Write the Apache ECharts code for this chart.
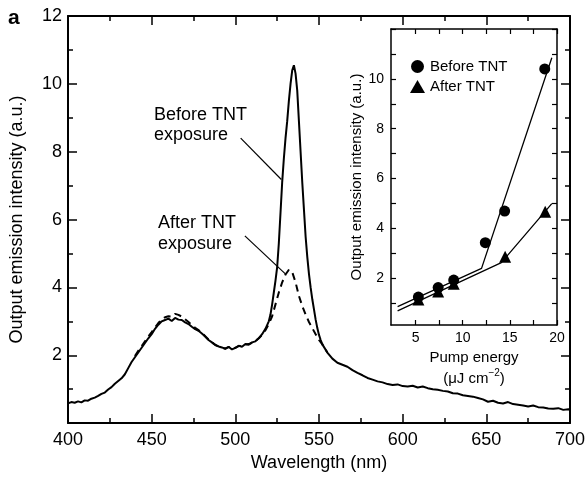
<!DOCTYPE html>
<html><head><meta charset="utf-8">
<script src="https://cdn.jsdelivr.net/npm/echarts@6/dist/echarts.min.js"></script>
<style>html,body{margin:0;padding:0;background:#fff}#c{width:588px;height:477px}</style>
</head><body><div id="c"></div>
<script>
const FONT = '"Liberation Sans", Arial, Helvetica, sans-serif';

// Main spectrum: before TNT exposure (solid)
const beforeWl = [400,402,404,406,408,410,412,414,416,418,420,422,424,426,428,430,432,434,436,438,440,442,444,446,448,450,452,454,456,458,460,462,464,466,468,470,472,474,476,478,480,482,484,486,488,490,492,494,496,498,500,502,504,506,508,510,512,514,516,518,520,
521,522,523,524,525,526,527,528,529,530,531,532,533,534,535,536,537,538,539,540,541,542,543,544,545,546,547,548,549,550,551,552,
555,558,561,564,567,570,573,576,579,582,585,588,591,594,597,600,603,606,609,612,615,618,621,624,627,630,633,636,639,642,645,648,651,654,657,660,663,666,669,672,675,678,681,684,687,690,693,696,699,700];
const beforeVal = [0.58,0.62,0.60,0.64,0.61,0.67,0.66,0.72,0.75,0.80,0.86,0.90,0.99,1.06,1.16,1.24,1.32,1.44,1.62,1.80,1.94,2.08,2.22,2.36,2.50,2.62,2.78,2.90,3.00,3.04,3.08,3.01,3.10,3.05,3.04,2.97,2.92,2.84,2.77,2.72,2.64,2.55,2.45,2.38,2.30,2.26,2.23,2.19,2.25,2.17,2.22,2.28,2.25,2.33,2.31,2.38,2.41,2.50,2.62,2.78,3.00,
3.20,3.50,3.85,4.20,4.60,5.30,6.20,7.10,7.80,8.40,8.90,9.50,10.00,10.40,10.55,10.30,9.80,8.90,8.00,7.10,6.30,5.50,4.90,4.40,4.00,3.65,3.35,3.05,2.80,2.60,2.45,2.32,
2.08,1.90,1.78,1.72,1.66,1.56,1.48,1.41,1.33,1.28,1.23,1.20,1.15,1.12,1.14,1.09,1.08,1.10,1.05,1.08,1.03,1.00,0.98,0.95,0.93,0.88,0.87,0.82,0.80,0.78,0.74,0.70,0.63,0.66,0.60,0.58,0.62,0.56,0.54,0.52,0.49,0.52,0.47,0.46,0.43,0.42,0.44,0.39,0.41,0.38];

// Main spectrum: after TNT exposure (dashed)
const afterWl = [440,442,444,446,448,450,452,454,456,458,460,462,464,466,468,470,472,474,476,478,480,482,484,486,488,490,492,494,496,498,500,502,504,506,508,510,512,514,516,518,520,522,524,526,528,530,532,534,536,538,540,542,544,546,548,550,552,555];
const afterVal = [1.98,2.13,2.27,2.41,2.55,2.68,2.82,2.95,3.06,3.12,3.15,3.14,3.22,3.19,3.14,3.06,2.98,2.89,2.81,2.74,2.66,2.56,2.46,2.38,2.31,2.26,2.22,2.20,2.24,2.19,2.22,2.27,2.27,2.32,2.33,2.37,2.42,2.50,2.60,2.74,2.92,3.15,3.50,3.85,4.15,4.38,4.52,4.45,4.15,3.75,3.45,3.20,2.98,2.80,2.62,2.45,2.32,2.08];

// Leader lines for annotations (wavelength, intensity)
const beforeLeader = [[503.2, 8.4], [527.5, 7.18]];
const afterLeader = [[505.7, 5.52], [529.9, 4.4]];

// Inset: output intensity vs pump energy
const beforeE = [5.3, 7.4, 9.05, 12.4, 14.45, 18.7];
const beforeI = [1.25, 1.63, 1.93, 3.43, 4.7, 10.4];
const afterE = [5.3, 7.4, 9.05, 14.5, 18.75];
const afterI = [1.15, 1.47, 1.78, 2.87, 4.67];
const beforeFitE = [3.1, 12.0, 19.45];
const beforeFitI = [0.87, 2.4, 10.85];
const afterFitE = [3.1, 14.1, 19.45];
const afterFitI = [0.7, 2.63, 5.0];

// Tick values
const mainYLabels = [2, 4, 6, 8, 10, 12];
const insetXTicks = [5, 7.5, 10, 12.5, 15, 17.5, 20];
const insetXLabels = [5, 10, 15, 20];
const insetYTicks = [1, 2, 3, 4, 5, 6, 7, 8, 9, 10, 11, 12];
const insetYLabels = [2, 4, 6, 8, 10];

const pair = (xs, ys) => xs.map((x, i) => [x, ys[i]]);
const chart = echarts.init(document.getElementById('c'), null, {renderer: 'canvas'});

const black = '#000';
const mainLine = {show: true, onZero: false, lineStyle: {color: black, width: 2}};
const mainTick = {show: true, inside: true, length: 9, lineStyle: {color: black, width: 1.5}};
const mainMinor = {show: true, splitNumber: 2, length: 5, lineStyle: {color: black, width: 1.5}};
const insetLine = {show: true, onZero: false, lineStyle: {color: black, width: 1.5}};

const option = {
  animation: false,
  backgroundColor: '#fff',
  textStyle: {fontFamily: FONT},
  grid: [
    {left: 68, right: 15, top: 16, bottom: 51},
    {left: 391, right: 31, top: 29, bottom: 152}
  ],
  legend: {
    data: ['Before TNT', 'After TNT'],
    orient: 'vertical', left: 405, top: 54,
    itemWidth: 15, itemHeight: 13, itemGap: 5,
    textStyle: {fontSize: 15, color: black, fontFamily: FONT}
  },
  xAxis: [
    {gridIndex: 0, type: 'value', min: 400, max: 700, interval: 50, position: 'bottom',
     axisLine: mainLine, axisTick: mainTick, minorTick: mainMinor,
     splitLine: {show: false}, minorSplitLine: {show: false},
     axisLabel: {color: black, fontSize: 18, fontFamily: FONT, margin: 8},
     name: 'Wavelength (nm)', nameLocation: 'middle', nameGap: 30,
     nameTextStyle: {color: black, fontSize: 18, fontFamily: FONT}},
    {gridIndex: 0, type: 'value', min: 400, max: 700, interval: 50, position: 'top',
     axisLine: mainLine, axisTick: mainTick, minorTick: mainMinor,
     splitLine: {show: false}, minorSplitLine: {show: false}, axisLabel: {show: false}},
    {gridIndex: 1, type: 'value', min: 2.4, max: 20, position: 'bottom',
     axisLine: insetLine,
     axisTick: {show: true, inside: true, length: 5, customValues: insetXTicks, lineStyle: {color: black, width: 1.2}},
     splitLine: {show: false},
     axisLabel: {customValues: insetXLabels, color: black, fontSize: 14, fontFamily: FONT, margin: 6},
     name: '{a|Pump energy}\n{a|(μJ cm}{s|−2}{a|)}', nameLocation: 'middle', nameGap: 20,
     nameTextStyle: {color: black, fontFamily: FONT,
       rich: {a: {fontSize: 15, lineHeight: 21, color: black, fontFamily: FONT},
              s: {fontSize: 10, lineHeight: 21, verticalAlign: 'top', padding: [0, 0, 6, 0], color: black, fontFamily: FONT}}}},
    {gridIndex: 1, type: 'value', min: 2.4, max: 20, position: 'top',
     axisLine: insetLine,
     axisTick: {show: true, inside: true, length: 5, customValues: insetXTicks, lineStyle: {color: black, width: 1.2}},
     splitLine: {show: false}, axisLabel: {show: false}}
  ],
  yAxis: [
    {gridIndex: 0, type: 'value', min: 0, max: 12, interval: 2, position: 'left',
     axisLine: mainLine, axisTick: mainTick, minorTick: mainMinor,
     splitLine: {show: false}, minorSplitLine: {show: false},
     axisLabel: {color: black, fontSize: 18, fontFamily: FONT, margin: 6,
       formatter: v => mainYLabels.includes(v) ? String(v) : ''},
     name: 'Output emission intensity (a.u.)', nameLocation: 'middle', nameGap: 42,
     nameTextStyle: {color: black, fontSize: 18, fontFamily: FONT}},
    {gridIndex: 0, type: 'value', min: 0, max: 12, interval: 2, position: 'right',
     axisLine: mainLine, axisTick: mainTick, minorTick: mainMinor,
     splitLine: {show: false}, minorSplitLine: {show: false}, axisLabel: {show: false}},
    {gridIndex: 1, type: 'value', min: 0.13, max: 12, position: 'left',
     axisLine: insetLine,
     axisTick: {show: true, inside: true, length: 5, customValues: insetYTicks, lineStyle: {color: black, width: 1.2}},
     splitLine: {show: false},
     axisLabel: {customValues: insetYLabels, color: black, fontSize: 14, fontFamily: FONT, margin: 7},
     name: 'Output emission intensity (a.u.)', nameLocation: 'middle', nameGap: 24,
     nameTextStyle: {color: black, fontSize: 15, fontFamily: FONT}},
    {gridIndex: 1, type: 'value', min: 0.13, max: 12, position: 'right',
     axisLine: insetLine,
     axisTick: {show: true, inside: true, length: 5, customValues: insetYTicks, lineStyle: {color: black, width: 1.2}},
     splitLine: {show: false}, axisLabel: {show: false}}
  ],
  series: [
    {name: 'Before TNT exposure', type: 'line', xAxisIndex: 0, yAxisIndex: 0,
     data: pair(beforeWl, beforeVal), showSymbol: false, symbol: 'none',
     lineStyle: {color: black, width: 2}, z: 3,
     markLine: {silent: true, symbol: ['none', 'none'], label: {show: false},
       lineStyle: {color: black, width: 1.2, type: 'solid'},
       data: [[{coord: beforeLeader[0]}, {coord: beforeLeader[1]}], [{coord: afterLeader[0]}, {coord: afterLeader[1]}]]}},
    {name: 'After TNT exposure', type: 'line', xAxisIndex: 0, yAxisIndex: 0,
     data: pair(afterWl, afterVal), showSymbol: false, symbol: 'none',
     lineStyle: {color: black, width: 2, type: [7, 5]}, z: 4},
    {name: 'beforeFit', type: 'line', xAxisIndex: 2, yAxisIndex: 2,
     data: pair(beforeFitE, beforeFitI), symbol: 'none', lineStyle: {color: black, width: 1.3}},
    {name: 'afterFit', type: 'line', xAxisIndex: 2, yAxisIndex: 2,
     data: pair(afterFitE, afterFitI), symbol: 'none', lineStyle: {color: black, width: 1.3}},
    {name: 'Before TNT', type: 'scatter', xAxisIndex: 2, yAxisIndex: 2,
     data: pair(beforeE, beforeI), symbol: 'circle', symbolSize: 11, itemStyle: {color: black, opacity: 1}, z: 5},
    {name: 'After TNT', type: 'scatter', xAxisIndex: 2, yAxisIndex: 2,
     data: pair(afterE, afterI), symbol: 'triangle', symbolSize: 12, itemStyle: {color: black, opacity: 1}, z: 5}
  ],
  graphic: [
    {type: 'text', left: 8, top: 8, style: {text: 'a', font: 'bold 21px ' + FONT, fill: black}},
    {type: 'text', left: 154, top: 105, style: {text: 'Before TNT\nexposure', fontSize: 18, lineHeight: 20, fontFamily: FONT, fill: black}},
    {type: 'text', left: 158, top: 213, style: {text: 'After TNT\nexposure', fontSize: 18, lineHeight: 21, fontFamily: FONT, fill: black}}
  ]
};
chart.setOption(option);
</script>
</body></html>
